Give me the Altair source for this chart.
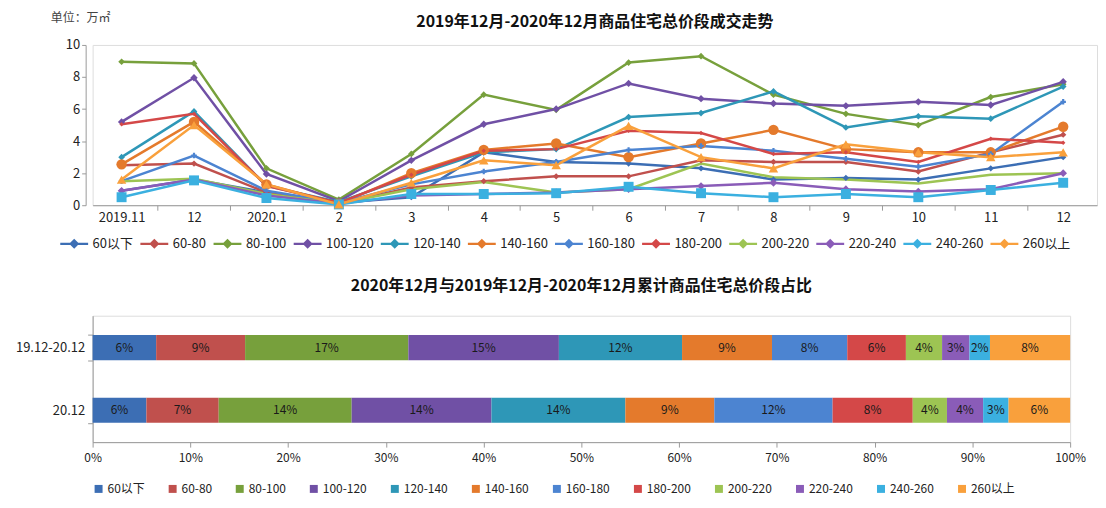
import altair as alt
import pandas as pd

FONT = "Noto Sans CJK SC"

# ---------------- data ----------------
months = ["2019.11", "12", "2020.1", "2", "3", "4", "5", "6", "7", "8", "9", "10", "11", "12"]
series = ["60以下", "60-80", "80-100", "100-120", "120-140", "140-160",
          "160-180", "180-200", "200-220", "220-240", "240-260", "260以上"]

s60 = [0.9, 1.6, 0.8, 0.15, 0.5, 3.3, 2.7, 2.6, 2.3, 1.6, 1.7, 1.6, 2.3, 3.0]
s60_80 = [2.5, 2.6, 0.8, 0.1, 1.1, 1.5, 1.8, 1.8, 2.8, 2.7, 2.7, 2.1, 3.3, 4.4]
s80_100 = [8.95, 8.85, 2.3, 0.35, 3.2, 6.9, 5.95, 8.9, 9.3, 6.9, 5.7, 5.0, 6.75, 7.55]
s100_120 = [5.2, 7.95, 1.95, 0.25, 2.8, 5.05, 6.0, 7.6, 6.65, 6.35, 6.2, 6.45, 6.25, 7.7]
s120_140 = [3.0, 5.85, 1.2, 0.2, 1.8, 3.3, 3.5, 5.5, 5.75, 7.1, 4.85, 5.55, 5.4, 7.4]
s140_160 = [2.55, 5.2, 1.3, 0.1, 2.0, 3.45, 3.85, 3.0, 3.85, 4.7, 3.5, 3.3, 3.3, 4.9]
s160_180 = [1.5, 3.1, 0.9, 0.15, 1.3, 2.1, 2.7, 3.45, 3.7, 3.4, 2.9, 2.4, 3.2, 6.45]
s180_200 = [5.05, 5.7, 1.2, 0.15, 1.9, 3.4, 3.5, 4.65, 4.5, 3.2, 3.3, 2.7, 4.15, 3.9]
s200_220 = [1.5, 1.65, 0.7, 0.1, 1.0, 1.45, 0.8, 1.0, 2.6, 1.75, 1.6, 1.35, 1.9, 2.0]
s220_240 = [0.9, 1.6, 0.6, 0.1, 0.6, 0.7, 0.8, 1.0, 1.2, 1.4, 1.0, 0.85, 1.0, 2.0]
s240_260 = [0.5, 1.55, 0.45, 0.05, 0.7, 0.7, 0.75, 1.15, 0.75, 0.5, 0.7, 0.5, 0.95, 1.4]
s260 = [1.6, 5.0, 1.3, 0.05, 1.4, 2.8, 2.5, 4.95, 3.0, 2.3, 3.8, 3.3, 3.0, 3.3]
line_values = [s60, s60_80, s80_100, s100_120, s120_140, s140_160,
               s160_180, s180_200, s200_220, s220_240, s240_260, s260]

bar_rows = ["19.12-20.12", "20.12"]
row1_vals = [6.5, 9.1, 16.7, 15.4, 12.6, 9.2, 7.7, 6.0, 3.7, 2.8, 2.1, 8.2]
row1_labels = ["6%", "9%", "17%", "15%", "12%", "9%", "8%", "6%", "4%", "3%", "2%", "8%"]
row2_vals = [5.5, 7.4, 13.6, 14.3, 13.7, 9.1, 12.1, 8.2, 3.5, 3.7, 2.6, 6.3]
row2_labels = ["6%", "7%", "14%", "14%", "14%", "9%", "12%", "8%", "4%", "4%", "3%", "6%"]
pct_ticks = [0, 10, 20, 30, 40, 50, 60, 70, 80, 90, 100]

title_top = "2019年12月-2020年12月商品住宅总价段成交走势"
title_bottom = "2020年12月与2019年12月-2020年12月累计商品住宅总价段占比"
unit_label = "单位：万㎡"

# ---------------- styles ----------------
colors = ["#3C6EB4", "#C0504D", "#77A03C", "#7050A5", "#2E97B7", "#E47A2C",
          "#4C84D1", "#D44848", "#9DC453", "#8A5CB8", "#3BB0E0", "#F9A03C"]
marker_shapes = ["diamond", "diamond", "diamond", "diamond", "diamond", "circle",
                 "cross", "diamond", "diamond", "diamond", "square", "triangle-up"]
marker_sizes = [40, 40, 45, 55, 45, 110, 30, 20, 0, 60, 100, 90]

# ---------------- top chart ----------------
rows = []
for si, name in enumerate(series):
    for mi, m in enumerate(months):
        rows.append({"idx": mi, "month": m, "series": name,
                     "value": line_values[si][mi],
                     "mshape": marker_shapes[si], "msize": marker_sizes[si]})
line_df = pd.DataFrame(rows)

xscale = alt.Scale(domain=[-0.4, 13.467], nice=False, zero=False)
month_js = "[" + ",".join("'" + m + "'" for m in months) + "]"

x_lab = alt.X("idx:Q", scale=xscale, title=None,
              axis=alt.Axis(orient="bottom", values=list(range(len(months))),
                            labelExpr=month_js + "[datum.value]",
                            ticks=False, domain=False, grid=False,
                            labelFontSize=13, labelColor="#222", labelFont=FONT,
                            labelPadding=6, labelFlush=False))
x_tick = alt.X("idx:Q", scale=xscale, title=None,
               axis=alt.Axis(orient="bottom",
                             values=[i + 0.5 for i in range(len(months) - 1)],
                             labels=False, ticks=True, tickSize=5, domain=True,
                             grid=False, domainColor="#9a9a9a", tickColor="#9a9a9a"))
y_enc = alt.Y("value:Q", scale=alt.Scale(domain=[0, 10], nice=False), title=None,
              axis=alt.Axis(values=[0, 2, 4, 6, 8, 10], grid=False, tickSize=4,
                            offset=7, domainColor="#9a9a9a", tickColor="#9a9a9a",
                            labelFontSize=13, labelColor="#222", labelFont=FONT,
                            labelPadding=2))
top_legend = alt.Legend(title=None, orient="none", legendX=-34, legendY=184,
                        direction="horizontal", columns=12,
                        symbolType="M-1,0L1,0M0,-0.25L0.25,0L0,0.25L-0.25,0Z",
                        symbolSize=784, symbolStrokeWidth=2.2,
                        labelFontSize=13, labelFont=FONT, labelColor="#222",
                        labelOffset=3, columnPadding=2.5, padding=0)
color_top = alt.Color("series:N", scale=alt.Scale(domain=series, range=colors),
                      legend=top_legend, sort=series)

base = alt.Chart(line_df)
lines = base.mark_line(strokeWidth=2.5).encode(x=x_lab, y=y_enc, color=color_top)
pts = base.mark_point(filled=True, opacity=1).encode(
    x=x_tick, y=y_enc, color=color_top,
    shape=alt.Shape("mshape:N", scale=None),
    size=alt.Size("msize:Q", scale=None))
unit = alt.Chart(pd.DataFrame({"t": [unit_label]})).mark_text(
    align="left", baseline="middle", fontSize=12, font=FONT, color="#444"
).encode(text="t:N", x=alt.value(-42), y=alt.value(-27))

top = alt.layer(lines, pts, unit).resolve_axis(x="independent").properties(
    width=1009, height=161,
    title=alt.TitleParams(title_top, fontSize=16, fontWeight="bold", font=FONT,
                          anchor="middle", offset=-18, color="#111"))

# ---------------- bottom chart ----------------
brows = []
for rname, vals, labs in [(bar_rows[0], row1_vals, row1_labels),
                          (bar_rows[1], row2_vals, row2_labels)]:
    acc = 0.0
    for ci, (name, v, lab) in enumerate(zip(series, vals, labs)):
        brows.append({"row": rname, "cat": name, "start": acc, "end": acc + v,
                      "mid": acc + v / 2, "label": lab, "ci": ci})
        acc += v
bar_df = pd.DataFrame(brows)

bx = alt.X("start:Q", scale=alt.Scale(domain=[0, 100], nice=False), title=None,
           axis=alt.Axis(values=pct_ticks, labelExpr="datum.value + '%'",
                         grid=False, tickSize=5, domainColor="#9a9a9a",
                         tickColor="#9a9a9a", labelFontSize=12, labelColor="#222",
                         labelFont=FONT, labelPadding=5, labelFlush=False))
by = alt.Y("row:N", sort=bar_rows, title=None,
           scale=alt.Scale(paddingInner=0.6, paddingOuter=0.31),
           axis=alt.Axis(tickBand="extent", tickSize=5, domainColor="#9a9a9a",
                         tickColor="#9a9a9a", labelFontSize=13, labelColor="#222",
                         labelFont=FONT, labelPadding=3))
bot_legend = alt.Legend(title=None, orient="none", legendX=0, legendY=168,
                        direction="horizontal", columns=12, symbolType="square",
                        symbolSize=64, symbolStrokeWidth=0,
                        labelFontSize=12, labelFont=FONT, labelColor="#222",
                        labelOffset=3, columnPadding=21.4, padding=0)
bars = alt.Chart(bar_df).mark_bar().encode(
    x=bx, x2="end:Q", y=by,
    color=alt.Color("cat:N", scale=alt.Scale(domain=series, range=colors),
                    legend=bot_legend, sort=series))
texts = alt.Chart(bar_df).mark_text(fontSize=12, font=FONT, color="#1a1a1a").encode(
    x=alt.X("mid:Q"), y=alt.Y("row:N", sort=bar_rows), text="label:N")

bottom = alt.layer(bars, texts).properties(
    width=982, height=127,
    title=alt.TitleParams(title_bottom, fontSize=16, fontWeight="bold", font=FONT,
                          anchor="middle", offset=16, color="#111"))

chart = alt.vconcat(top, bottom, spacing=24).resolve_scale(
    color="independent").resolve_legend(color="independent").properties(
    padding={"left": 7, "top": 2, "right": 0, "bottom": 0}
).configure_view(stroke=None).configure(background="white")

chart.save("out.html", embed_options={"renderer": "svg", "actions": False})
